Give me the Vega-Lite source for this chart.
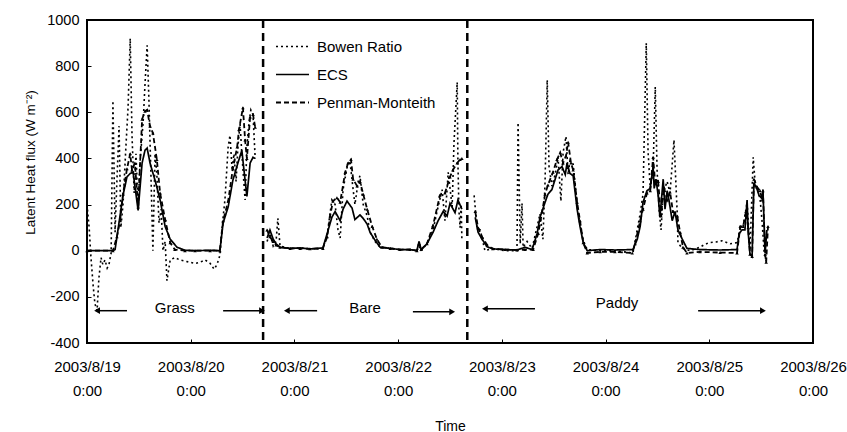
{
  "$schema": "https://vega.github.io/schema/vega-lite/v6.json",
  "width": 726,
  "height": 323,
  "autosize": {"type": "none"},
  "padding": {"left": 87, "top": 20, "right": 34, "bottom": 89},
  "background": "white",
  "config": {
    "view": {"stroke": "black", "strokeWidth": 2},
    "font": "Liberation Sans",
    "axis": {"grid": false, "domain": false, "tickColor": "black", "labelColor": "black", "titleColor": "black", "titleFontWeight": "normal", "labelFont": "Liberation Sans", "titleFont": "Liberation Sans"}
  },
  "datasets": {
    "flux": [
      {"series": "ECS", "segment": "grass", "time": "2003-08-19T00:00", "value": 0},
      {"series": "ECS", "segment": "grass", "time": "2003-08-19T06:00", "value": 0},
      {"series": "ECS", "segment": "grass", "time": "2003-08-19T06:30", "value": 5},
      {"series": "ECS", "segment": "grass", "time": "2003-08-19T07:10", "value": 90},
      {"series": "ECS", "segment": "grass", "time": "2003-08-19T08:20", "value": 240},
      {"series": "ECS", "segment": "grass", "time": "2003-08-19T09:15", "value": 320},
      {"series": "ECS", "segment": "grass", "time": "2003-08-19T10:00", "value": 335},
      {"series": "ECS", "segment": "grass", "time": "2003-08-19T10:40", "value": 340},
      {"series": "ECS", "segment": "grass", "time": "2003-08-19T11:05", "value": 280},
      {"series": "ECS", "segment": "grass", "time": "2003-08-19T11:50", "value": 175},
      {"series": "ECS", "segment": "grass", "time": "2003-08-19T12:45", "value": 380},
      {"series": "ECS", "segment": "grass", "time": "2003-08-19T13:25", "value": 435},
      {"series": "ECS", "segment": "grass", "time": "2003-08-19T13:55", "value": 445},
      {"series": "ECS", "segment": "grass", "time": "2003-08-19T14:35", "value": 380},
      {"series": "ECS", "segment": "grass", "time": "2003-08-19T15:45", "value": 305},
      {"series": "ECS", "segment": "grass", "time": "2003-08-19T16:55", "value": 220},
      {"series": "ECS", "segment": "grass", "time": "2003-08-19T18:05", "value": 105},
      {"series": "ECS", "segment": "grass", "time": "2003-08-19T19:15", "value": 50},
      {"series": "ECS", "segment": "grass", "time": "2003-08-19T20:50", "value": 15},
      {"series": "ECS", "segment": "grass", "time": "2003-08-19T22:40", "value": 2},
      {"series": "ECS", "segment": "grass", "time": "2003-08-20T01:00", "value": 0},
      {"series": "ECS", "segment": "grass", "time": "2003-08-20T04:30", "value": 2},
      {"series": "ECS", "segment": "grass", "time": "2003-08-20T06:45", "value": 0},
      {"series": "ECS", "segment": "grass", "time": "2003-08-20T07:30", "value": 120},
      {"series": "ECS", "segment": "grass", "time": "2003-08-20T08:40", "value": 190},
      {"series": "ECS", "segment": "grass", "time": "2003-08-20T09:45", "value": 305},
      {"series": "ECS", "segment": "grass", "time": "2003-08-20T10:55", "value": 380},
      {"series": "ECS", "segment": "grass", "time": "2003-08-20T11:50", "value": 435},
      {"series": "ECS", "segment": "grass", "time": "2003-08-20T12:35", "value": 305},
      {"series": "ECS", "segment": "grass", "time": "2003-08-20T13:00", "value": 235},
      {"series": "ECS", "segment": "grass", "time": "2003-08-20T13:45", "value": 380},
      {"series": "ECS", "segment": "grass", "time": "2003-08-20T14:25", "value": 405},
      {"series": "ECS", "segment": "grass", "time": "2003-08-20T14:55", "value": 400},

      {"series": "Penman-Monteith", "segment": "grass", "time": "2003-08-19T00:00", "value": 0},
      {"series": "Penman-Monteith", "segment": "grass", "time": "2003-08-19T06:00", "value": 0},
      {"series": "Penman-Monteith", "segment": "grass", "time": "2003-08-19T06:55", "value": 60},
      {"series": "Penman-Monteith", "segment": "grass", "time": "2003-08-19T07:40", "value": 130},
      {"series": "Penman-Monteith", "segment": "grass", "time": "2003-08-19T08:20", "value": 245},
      {"series": "Penman-Monteith", "segment": "grass", "time": "2003-08-19T09:15", "value": 355},
      {"series": "Penman-Monteith", "segment": "grass", "time": "2003-08-19T10:00", "value": 420},
      {"series": "Penman-Monteith", "segment": "grass", "time": "2003-08-19T10:25", "value": 350},
      {"series": "Penman-Monteith", "segment": "grass", "time": "2003-08-19T11:05", "value": 380},
      {"series": "Penman-Monteith", "segment": "grass", "time": "2003-08-19T11:50", "value": 190},
      {"series": "Penman-Monteith", "segment": "grass", "time": "2003-08-19T12:45", "value": 570},
      {"series": "Penman-Monteith", "segment": "grass", "time": "2003-08-19T13:25", "value": 605},
      {"series": "Penman-Monteith", "segment": "grass", "time": "2003-08-19T13:55", "value": 610},
      {"series": "Penman-Monteith", "segment": "grass", "time": "2003-08-19T14:35", "value": 540},
      {"series": "Penman-Monteith", "segment": "grass", "time": "2003-08-19T15:15", "value": 510},
      {"series": "Penman-Monteith", "segment": "grass", "time": "2003-08-19T16:10", "value": 395},
      {"series": "Penman-Monteith", "segment": "grass", "time": "2003-08-19T16:55", "value": 250},
      {"series": "Penman-Monteith", "segment": "grass", "time": "2003-08-19T18:05", "value": 135},
      {"series": "Penman-Monteith", "segment": "grass", "time": "2003-08-19T19:15", "value": 35},
      {"series": "Penman-Monteith", "segment": "grass", "time": "2003-08-19T20:20", "value": 5},
      {"series": "Penman-Monteith", "segment": "grass", "time": "2003-08-19T22:40", "value": 0},
      {"series": "Penman-Monteith", "segment": "grass", "time": "2003-08-20T01:00", "value": 0},
      {"series": "Penman-Monteith", "segment": "grass", "time": "2003-08-20T04:30", "value": 0},
      {"series": "Penman-Monteith", "segment": "grass", "time": "2003-08-20T06:45", "value": 0},
      {"series": "Penman-Monteith", "segment": "grass", "time": "2003-08-20T07:30", "value": 130},
      {"series": "Penman-Monteith", "segment": "grass", "time": "2003-08-20T08:40", "value": 215},
      {"series": "Penman-Monteith", "segment": "grass", "time": "2003-08-20T09:45", "value": 355},
      {"series": "Penman-Monteith", "segment": "grass", "time": "2003-08-20T10:45", "value": 450},
      {"series": "Penman-Monteith", "segment": "grass", "time": "2003-08-20T11:10", "value": 525},
      {"series": "Penman-Monteith", "segment": "grass", "time": "2003-08-20T12:05", "value": 620},
      {"series": "Penman-Monteith", "segment": "grass", "time": "2003-08-20T12:35", "value": 480},
      {"series": "Penman-Monteith", "segment": "grass", "time": "2003-08-20T13:00", "value": 400},
      {"series": "Penman-Monteith", "segment": "grass", "time": "2003-08-20T13:45", "value": 580},
      {"series": "Penman-Monteith", "segment": "grass", "time": "2003-08-20T14:25", "value": 590},
      {"series": "Penman-Monteith", "segment": "grass", "time": "2003-08-20T14:55", "value": 535},

      {"series": "Bowen Ratio", "segment": "grass", "time": "2003-08-19T00:00", "value": 200},
      {"series": "Bowen Ratio", "segment": "grass", "time": "2003-08-19T00:30", "value": 100},
      {"series": "Bowen Ratio", "segment": "grass", "time": "2003-08-19T00:55", "value": -30},
      {"series": "Bowen Ratio", "segment": "grass", "time": "2003-08-19T01:25", "value": -150},
      {"series": "Bowen Ratio", "segment": "grass", "time": "2003-08-19T01:50", "value": -230},
      {"series": "Bowen Ratio", "segment": "grass", "time": "2003-08-19T02:20", "value": -260},
      {"series": "Bowen Ratio", "segment": "grass", "time": "2003-08-19T02:45", "value": -120},
      {"series": "Bowen Ratio", "segment": "grass", "time": "2003-08-19T03:15", "value": -30},
      {"series": "Bowen Ratio", "segment": "grass", "time": "2003-08-19T03:40", "value": -60},
      {"series": "Bowen Ratio", "segment": "grass", "time": "2003-08-19T04:10", "value": -40},
      {"series": "Bowen Ratio", "segment": "grass", "time": "2003-08-19T04:40", "value": -75},
      {"series": "Bowen Ratio", "segment": "grass", "time": "2003-08-19T05:05", "value": -60},
      {"series": "Bowen Ratio", "segment": "grass", "time": "2003-08-19T05:35", "value": -10},
      {"series": "Bowen Ratio", "segment": "grass", "time": "2003-08-19T06:00", "value": 650},
      {"series": "Bowen Ratio", "segment": "grass", "time": "2003-08-19T06:30", "value": 80},
      {"series": "Bowen Ratio", "segment": "grass", "time": "2003-08-19T06:55", "value": 300},
      {"series": "Bowen Ratio", "segment": "grass", "time": "2003-08-19T07:25", "value": 540},
      {"series": "Bowen Ratio", "segment": "grass", "time": "2003-08-19T07:50", "value": 100},
      {"series": "Bowen Ratio", "segment": "grass", "time": "2003-08-19T08:20", "value": 200},
      {"series": "Bowen Ratio", "segment": "grass", "time": "2003-08-19T09:00", "value": 450},
      {"series": "Bowen Ratio", "segment": "grass", "time": "2003-08-19T09:30", "value": 620},
      {"series": "Bowen Ratio", "segment": "grass", "time": "2003-08-19T10:00", "value": 920},
      {"series": "Bowen Ratio", "segment": "grass", "time": "2003-08-19T10:25", "value": 500},
      {"series": "Bowen Ratio", "segment": "grass", "time": "2003-08-19T10:55", "value": 250},
      {"series": "Bowen Ratio", "segment": "grass", "time": "2003-08-19T11:20", "value": 420},
      {"series": "Bowen Ratio", "segment": "grass", "time": "2003-08-19T11:50", "value": 180},
      {"series": "Bowen Ratio", "segment": "grass", "time": "2003-08-19T12:15", "value": 380},
      {"series": "Bowen Ratio", "segment": "grass", "time": "2003-08-19T13:00", "value": 560},
      {"series": "Bowen Ratio", "segment": "grass", "time": "2003-08-19T13:25", "value": 720},
      {"series": "Bowen Ratio", "segment": "grass", "time": "2003-08-19T13:55", "value": 890},
      {"series": "Bowen Ratio", "segment": "grass", "time": "2003-08-19T14:20", "value": 650},
      {"series": "Bowen Ratio", "segment": "grass", "time": "2003-08-19T14:50", "value": 300},
      {"series": "Bowen Ratio", "segment": "grass", "time": "2003-08-19T15:15", "value": 0},
      {"series": "Bowen Ratio", "segment": "grass", "time": "2003-08-19T15:45", "value": 420},
      {"series": "Bowen Ratio", "segment": "grass", "time": "2003-08-19T16:10", "value": 330},
      {"series": "Bowen Ratio", "segment": "grass", "time": "2003-08-19T16:40", "value": 120},
      {"series": "Bowen Ratio", "segment": "grass", "time": "2003-08-19T17:10", "value": 180},
      {"series": "Bowen Ratio", "segment": "grass", "time": "2003-08-19T17:35", "value": 0},
      {"series": "Bowen Ratio", "segment": "grass", "time": "2003-08-19T18:05", "value": 40},
      {"series": "Bowen Ratio", "segment": "grass", "time": "2003-08-19T18:30", "value": -130},
      {"series": "Bowen Ratio", "segment": "grass", "time": "2003-08-19T19:15", "value": -40},
      {"series": "Bowen Ratio", "segment": "grass", "time": "2003-08-19T20:20", "value": -30},
      {"series": "Bowen Ratio", "segment": "grass", "time": "2003-08-19T21:30", "value": -40},
      {"series": "Bowen Ratio", "segment": "grass", "time": "2003-08-19T22:40", "value": -45},
      {"series": "Bowen Ratio", "segment": "grass", "time": "2003-08-19T23:50", "value": -50},
      {"series": "Bowen Ratio", "segment": "grass", "time": "2003-08-20T01:00", "value": -55},
      {"series": "Bowen Ratio", "segment": "grass", "time": "2003-08-20T02:10", "value": -50},
      {"series": "Bowen Ratio", "segment": "grass", "time": "2003-08-20T03:20", "value": -40},
      {"series": "Bowen Ratio", "segment": "grass", "time": "2003-08-20T04:30", "value": -55},
      {"series": "Bowen Ratio", "segment": "grass", "time": "2003-08-20T05:25", "value": -80},
      {"series": "Bowen Ratio", "segment": "grass", "time": "2003-08-20T06:05", "value": -60},
      {"series": "Bowen Ratio", "segment": "grass", "time": "2003-08-20T06:45", "value": -20},
      {"series": "Bowen Ratio", "segment": "grass", "time": "2003-08-20T07:15", "value": 100},
      {"series": "Bowen Ratio", "segment": "grass", "time": "2003-08-20T07:55", "value": 220},
      {"series": "Bowen Ratio", "segment": "grass", "time": "2003-08-20T08:40", "value": 450},
      {"series": "Bowen Ratio", "segment": "grass", "time": "2003-08-20T09:05", "value": 500},
      {"series": "Bowen Ratio", "segment": "grass", "time": "2003-08-20T09:35", "value": 350},
      {"series": "Bowen Ratio", "segment": "grass", "time": "2003-08-20T10:00", "value": 420},
      {"series": "Bowen Ratio", "segment": "grass", "time": "2003-08-20T10:30", "value": 300},
      {"series": "Bowen Ratio", "segment": "grass", "time": "2003-08-20T10:55", "value": 450},
      {"series": "Bowen Ratio", "segment": "grass", "time": "2003-08-20T11:25", "value": 550},
      {"series": "Bowen Ratio", "segment": "grass", "time": "2003-08-20T11:50", "value": 420},
      {"series": "Bowen Ratio", "segment": "grass", "time": "2003-08-20T12:35", "value": 220},
      {"series": "Bowen Ratio", "segment": "grass", "time": "2003-08-20T13:00", "value": 450},
      {"series": "Bowen Ratio", "segment": "grass", "time": "2003-08-20T13:30", "value": 560},
      {"series": "Bowen Ratio", "segment": "grass", "time": "2003-08-20T13:55", "value": 610},
      {"series": "Bowen Ratio", "segment": "grass", "time": "2003-08-20T14:25", "value": 590},
      {"series": "Bowen Ratio", "segment": "grass", "time": "2003-08-20T14:55", "value": 400},

      {"series": "ECS", "segment": "bare", "time": "2003-08-20T17:40", "value": 55},
      {"series": "ECS", "segment": "bare", "time": "2003-08-20T18:20", "value": 90},
      {"series": "ECS", "segment": "bare", "time": "2003-08-20T19:05", "value": 50},
      {"series": "ECS", "segment": "bare", "time": "2003-08-20T19:45", "value": 30},
      {"series": "ECS", "segment": "bare", "time": "2003-08-20T20:40", "value": 15},
      {"series": "ECS", "segment": "bare", "time": "2003-08-20T23:00", "value": 10},
      {"series": "ECS", "segment": "bare", "time": "2003-08-21T01:20", "value": 12},
      {"series": "ECS", "segment": "bare", "time": "2003-08-21T03:35", "value": 8},
      {"series": "ECS", "segment": "bare", "time": "2003-08-21T06:35", "value": 12},
      {"series": "ECS", "segment": "bare", "time": "2003-08-21T07:35", "value": 75},
      {"series": "ECS", "segment": "bare", "time": "2003-08-21T08:40", "value": 145},
      {"series": "ECS", "segment": "bare", "time": "2003-08-21T09:25", "value": 170},
      {"series": "ECS", "segment": "bare", "time": "2003-08-21T10:35", "value": 130},
      {"series": "ECS", "segment": "bare", "time": "2003-08-21T11:15", "value": 180},
      {"series": "ECS", "segment": "bare", "time": "2003-08-21T12:10", "value": 215},
      {"series": "ECS", "segment": "bare", "time": "2003-08-21T13:20", "value": 185},
      {"series": "ECS", "segment": "bare", "time": "2003-08-21T14:00", "value": 135},
      {"series": "ECS", "segment": "bare", "time": "2003-08-21T15:10", "value": 155},
      {"series": "ECS", "segment": "bare", "time": "2003-08-21T15:55", "value": 140},
      {"series": "ECS", "segment": "bare", "time": "2003-08-21T16:50", "value": 115},
      {"series": "ECS", "segment": "bare", "time": "2003-08-21T17:30", "value": 80},
      {"series": "ECS", "segment": "bare", "time": "2003-08-21T18:40", "value": 45},
      {"series": "ECS", "segment": "bare", "time": "2003-08-21T19:50", "value": 15},
      {"series": "ECS", "segment": "bare", "time": "2003-08-21T22:10", "value": 10},
      {"series": "ECS", "segment": "bare", "time": "2003-08-22T00:25", "value": 5},
      {"series": "ECS", "segment": "bare", "time": "2003-08-22T02:45", "value": 5},
      {"series": "ECS", "segment": "bare", "time": "2003-08-22T04:20", "value": 0},
      {"series": "ECS", "segment": "bare", "time": "2003-08-22T04:50", "value": 40},
      {"series": "ECS", "segment": "bare", "time": "2003-08-22T05:20", "value": 5},
      {"series": "ECS", "segment": "bare", "time": "2003-08-22T06:40", "value": 30},
      {"series": "ECS", "segment": "bare", "time": "2003-08-22T08:05", "value": 80},
      {"series": "ECS", "segment": "bare", "time": "2003-08-22T09:15", "value": 130},
      {"series": "ECS", "segment": "bare", "time": "2003-08-22T10:25", "value": 170},
      {"series": "ECS", "segment": "bare", "time": "2003-08-22T11:20", "value": 150},
      {"series": "ECS", "segment": "bare", "time": "2003-08-22T12:00", "value": 205},
      {"series": "ECS", "segment": "bare", "time": "2003-08-22T13:10", "value": 165},
      {"series": "ECS", "segment": "bare", "time": "2003-08-22T13:50", "value": 220},
      {"series": "ECS", "segment": "bare", "time": "2003-08-22T14:45", "value": 180},

      {"series": "Penman-Monteith", "segment": "bare", "time": "2003-08-20T17:40", "value": 90},
      {"series": "Penman-Monteith", "segment": "bare", "time": "2003-08-20T18:20", "value": 60},
      {"series": "Penman-Monteith", "segment": "bare", "time": "2003-08-20T19:05", "value": 40},
      {"series": "Penman-Monteith", "segment": "bare", "time": "2003-08-20T19:45", "value": 25},
      {"series": "Penman-Monteith", "segment": "bare", "time": "2003-08-20T20:40", "value": 15},
      {"series": "Penman-Monteith", "segment": "bare", "time": "2003-08-20T23:00", "value": 10},
      {"series": "Penman-Monteith", "segment": "bare", "time": "2003-08-21T01:20", "value": 10},
      {"series": "Penman-Monteith", "segment": "bare", "time": "2003-08-21T03:35", "value": 8},
      {"series": "Penman-Monteith", "segment": "bare", "time": "2003-08-21T06:35", "value": 10},
      {"series": "Penman-Monteith", "segment": "bare", "time": "2003-08-21T07:35", "value": 60},
      {"series": "Penman-Monteith", "segment": "bare", "time": "2003-08-21T08:15", "value": 150},
      {"series": "Penman-Monteith", "segment": "bare", "time": "2003-08-21T08:55", "value": 215},
      {"series": "Penman-Monteith", "segment": "bare", "time": "2003-08-21T09:50", "value": 230},
      {"series": "Penman-Monteith", "segment": "bare", "time": "2003-08-21T10:35", "value": 210},
      {"series": "Penman-Monteith", "segment": "bare", "time": "2003-08-21T11:45", "value": 340},
      {"series": "Penman-Monteith", "segment": "bare", "time": "2003-08-21T12:25", "value": 380},
      {"series": "Penman-Monteith", "segment": "bare", "time": "2003-08-21T13:05", "value": 395},
      {"series": "Penman-Monteith", "segment": "bare", "time": "2003-08-21T13:35", "value": 310},
      {"series": "Penman-Monteith", "segment": "bare", "time": "2003-08-21T14:30", "value": 280},
      {"series": "Penman-Monteith", "segment": "bare", "time": "2003-08-21T15:10", "value": 300},
      {"series": "Penman-Monteith", "segment": "bare", "time": "2003-08-21T15:55", "value": 245},
      {"series": "Penman-Monteith", "segment": "bare", "time": "2003-08-21T16:50", "value": 180},
      {"series": "Penman-Monteith", "segment": "bare", "time": "2003-08-21T18:00", "value": 105},
      {"series": "Penman-Monteith", "segment": "bare", "time": "2003-08-21T19:05", "value": 50},
      {"series": "Penman-Monteith", "segment": "bare", "time": "2003-08-21T20:15", "value": 15},
      {"series": "Penman-Monteith", "segment": "bare", "time": "2003-08-21T22:10", "value": 10},
      {"series": "Penman-Monteith", "segment": "bare", "time": "2003-08-22T00:25", "value": 5},
      {"series": "Penman-Monteith", "segment": "bare", "time": "2003-08-22T02:45", "value": 5},
      {"series": "Penman-Monteith", "segment": "bare", "time": "2003-08-22T04:20", "value": 0},
      {"series": "Penman-Monteith", "segment": "bare", "time": "2003-08-22T04:50", "value": 30},
      {"series": "Penman-Monteith", "segment": "bare", "time": "2003-08-22T05:20", "value": 5},
      {"series": "Penman-Monteith", "segment": "bare", "time": "2003-08-22T06:40", "value": 30},
      {"series": "Penman-Monteith", "segment": "bare", "time": "2003-08-22T08:05", "value": 110},
      {"series": "Penman-Monteith", "segment": "bare", "time": "2003-08-22T09:40", "value": 240},
      {"series": "Penman-Monteith", "segment": "bare", "time": "2003-08-22T10:50", "value": 250},
      {"series": "Penman-Monteith", "segment": "bare", "time": "2003-08-22T12:00", "value": 320},
      {"series": "Penman-Monteith", "segment": "bare", "time": "2003-08-22T12:40", "value": 350},
      {"series": "Penman-Monteith", "segment": "bare", "time": "2003-08-22T13:40", "value": 380},
      {"series": "Penman-Monteith", "segment": "bare", "time": "2003-08-22T14:20", "value": 395},
      {"series": "Penman-Monteith", "segment": "bare", "time": "2003-08-22T14:45", "value": 400},

      {"series": "Bowen Ratio", "segment": "bare", "time": "2003-08-20T17:40", "value": 40},
      {"series": "Bowen Ratio", "segment": "bare", "time": "2003-08-20T18:20", "value": 75},
      {"series": "Bowen Ratio", "segment": "bare", "time": "2003-08-20T19:05", "value": 20},
      {"series": "Bowen Ratio", "segment": "bare", "time": "2003-08-20T19:45", "value": 40},
      {"series": "Bowen Ratio", "segment": "bare", "time": "2003-08-20T20:10", "value": 140},
      {"series": "Bowen Ratio", "segment": "bare", "time": "2003-08-20T20:40", "value": 20},
      {"series": "Bowen Ratio", "segment": "bare", "time": "2003-08-20T23:00", "value": 10},
      {"series": "Bowen Ratio", "segment": "bare", "time": "2003-08-21T01:20", "value": 12},
      {"series": "Bowen Ratio", "segment": "bare", "time": "2003-08-21T03:35", "value": 8},
      {"series": "Bowen Ratio", "segment": "bare", "time": "2003-08-21T06:35", "value": 10},
      {"series": "Bowen Ratio", "segment": "bare", "time": "2003-08-21T07:35", "value": 70},
      {"series": "Bowen Ratio", "segment": "bare", "time": "2003-08-21T08:40", "value": 220},
      {"series": "Bowen Ratio", "segment": "bare", "time": "2003-08-21T09:25", "value": 200},
      {"series": "Bowen Ratio", "segment": "bare", "time": "2003-08-21T10:05", "value": 90},
      {"series": "Bowen Ratio", "segment": "bare", "time": "2003-08-21T10:35", "value": 55},
      {"series": "Bowen Ratio", "segment": "bare", "time": "2003-08-21T11:15", "value": 265},
      {"series": "Bowen Ratio", "segment": "bare", "time": "2003-08-21T12:10", "value": 360},
      {"series": "Bowen Ratio", "segment": "bare", "time": "2003-08-21T12:50", "value": 390},
      {"series": "Bowen Ratio", "segment": "bare", "time": "2003-08-21T13:35", "value": 265},
      {"series": "Bowen Ratio", "segment": "bare", "time": "2003-08-21T14:00", "value": 200},
      {"series": "Bowen Ratio", "segment": "bare", "time": "2003-08-21T14:45", "value": 300},
      {"series": "Bowen Ratio", "segment": "bare", "time": "2003-08-21T15:10", "value": 325},
      {"series": "Bowen Ratio", "segment": "bare", "time": "2003-08-21T15:55", "value": 200},
      {"series": "Bowen Ratio", "segment": "bare", "time": "2003-08-21T16:50", "value": 150},
      {"series": "Bowen Ratio", "segment": "bare", "time": "2003-08-21T17:30", "value": 80},
      {"series": "Bowen Ratio", "segment": "bare", "time": "2003-08-21T18:40", "value": 40},
      {"series": "Bowen Ratio", "segment": "bare", "time": "2003-08-21T19:50", "value": 15},
      {"series": "Bowen Ratio", "segment": "bare", "time": "2003-08-21T22:10", "value": 10},
      {"series": "Bowen Ratio", "segment": "bare", "time": "2003-08-22T00:25", "value": 5},
      {"series": "Bowen Ratio", "segment": "bare", "time": "2003-08-22T02:45", "value": 5},
      {"series": "Bowen Ratio", "segment": "bare", "time": "2003-08-22T04:20", "value": 0},
      {"series": "Bowen Ratio", "segment": "bare", "time": "2003-08-22T04:50", "value": 20},
      {"series": "Bowen Ratio", "segment": "bare", "time": "2003-08-22T05:20", "value": 0},
      {"series": "Bowen Ratio", "segment": "bare", "time": "2003-08-22T06:40", "value": 30},
      {"series": "Bowen Ratio", "segment": "bare", "time": "2003-08-22T08:05", "value": 90},
      {"series": "Bowen Ratio", "segment": "bare", "time": "2003-08-22T09:00", "value": 170},
      {"series": "Bowen Ratio", "segment": "bare", "time": "2003-08-22T10:10", "value": 265},
      {"series": "Bowen Ratio", "segment": "bare", "time": "2003-08-22T10:50", "value": 130},
      {"series": "Bowen Ratio", "segment": "bare", "time": "2003-08-22T11:35", "value": 340},
      {"series": "Bowen Ratio", "segment": "bare", "time": "2003-08-22T12:30", "value": 190},
      {"series": "Bowen Ratio", "segment": "bare", "time": "2003-08-22T12:55", "value": 465},
      {"series": "Bowen Ratio", "segment": "bare", "time": "2003-08-22T13:40", "value": 730},
      {"series": "Bowen Ratio", "segment": "bare", "time": "2003-08-22T13:50", "value": 380},
      {"series": "Bowen Ratio", "segment": "bare", "time": "2003-08-22T14:05", "value": 170},
      {"series": "Bowen Ratio", "segment": "bare", "time": "2003-08-22T14:20", "value": 100},
      {"series": "Bowen Ratio", "segment": "bare", "time": "2003-08-22T14:35", "value": 200},
      {"series": "Bowen Ratio", "segment": "bare", "time": "2003-08-22T14:45", "value": 50},

      {"series": "ECS", "segment": "paddy", "time": "2003-08-22T17:50", "value": 145},
      {"series": "ECS", "segment": "paddy", "time": "2003-08-22T18:30", "value": 80},
      {"series": "ECS", "segment": "paddy", "time": "2003-08-22T19:25", "value": 50},
      {"series": "ECS", "segment": "paddy", "time": "2003-08-22T20:35", "value": 17},
      {"series": "ECS", "segment": "paddy", "time": "2003-08-22T21:55", "value": 8},
      {"series": "ECS", "segment": "paddy", "time": "2003-08-23T00:45", "value": 5},
      {"series": "ECS", "segment": "paddy", "time": "2003-08-23T03:30", "value": 3},
      {"series": "ECS", "segment": "paddy", "time": "2003-08-23T05:20", "value": 15},
      {"series": "ECS", "segment": "paddy", "time": "2003-08-23T07:00", "value": 5},
      {"series": "ECS", "segment": "paddy", "time": "2003-08-23T08:10", "value": 75},
      {"series": "ECS", "segment": "paddy", "time": "2003-08-23T08:50", "value": 145},
      {"series": "ECS", "segment": "paddy", "time": "2003-08-23T10:00", "value": 210},
      {"series": "ECS", "segment": "paddy", "time": "2003-08-23T10:40", "value": 245},
      {"series": "ECS", "segment": "paddy", "time": "2003-08-23T11:35", "value": 265},
      {"series": "ECS", "segment": "paddy", "time": "2003-08-23T12:20", "value": 310},
      {"series": "ECS", "segment": "paddy", "time": "2003-08-23T13:00", "value": 350},
      {"series": "ECS", "segment": "paddy", "time": "2003-08-23T13:55", "value": 365},
      {"series": "ECS", "segment": "paddy", "time": "2003-08-23T14:40", "value": 330},
      {"series": "ECS", "segment": "paddy", "time": "2003-08-23T15:05", "value": 380},
      {"series": "ECS", "segment": "paddy", "time": "2003-08-23T15:45", "value": 335},
      {"series": "ECS", "segment": "paddy", "time": "2003-08-23T16:30", "value": 325},
      {"series": "ECS", "segment": "paddy", "time": "2003-08-23T17:25", "value": 180},
      {"series": "ECS", "segment": "paddy", "time": "2003-08-23T18:05", "value": 105},
      {"series": "ECS", "segment": "paddy", "time": "2003-08-23T18:50", "value": 35},
      {"series": "ECS", "segment": "paddy", "time": "2003-08-23T19:45", "value": 0},
      {"series": "ECS", "segment": "paddy", "time": "2003-08-23T22:45", "value": 5},
      {"series": "ECS", "segment": "paddy", "time": "2003-08-24T02:10", "value": 3},
      {"series": "ECS", "segment": "paddy", "time": "2003-08-24T06:20", "value": 5},
      {"series": "ECS", "segment": "paddy", "time": "2003-08-24T07:20", "value": 50},
      {"series": "ECS", "segment": "paddy", "time": "2003-08-24T08:00", "value": 105},
      {"series": "ECS", "segment": "paddy", "time": "2003-08-24T08:40", "value": 210},
      {"series": "ECS", "segment": "paddy", "time": "2003-08-24T09:35", "value": 260},
      {"series": "ECS", "segment": "paddy", "time": "2003-08-24T10:20", "value": 270},
      {"series": "ECS", "segment": "paddy", "time": "2003-08-24T11:00", "value": 365},
      {"series": "ECS", "segment": "paddy", "time": "2003-08-24T11:15", "value": 270},
      {"series": "ECS", "segment": "paddy", "time": "2003-08-24T11:40", "value": 310},
      {"series": "ECS", "segment": "paddy", "time": "2003-08-24T12:10", "value": 240},
      {"series": "ECS", "segment": "paddy", "time": "2003-08-24T12:35", "value": 145},
      {"series": "ECS", "segment": "paddy", "time": "2003-08-24T13:20", "value": 310},
      {"series": "ECS", "segment": "paddy", "time": "2003-08-24T13:45", "value": 180},
      {"series": "ECS", "segment": "paddy", "time": "2003-08-24T14:15", "value": 260},
      {"series": "ECS", "segment": "paddy", "time": "2003-08-24T14:40", "value": 220},
      {"series": "ECS", "segment": "paddy", "time": "2003-08-24T15:25", "value": 130},
      {"series": "ECS", "segment": "paddy", "time": "2003-08-24T16:05", "value": 170},
      {"series": "ECS", "segment": "paddy", "time": "2003-08-24T16:45", "value": 90},
      {"series": "ECS", "segment": "paddy", "time": "2003-08-24T17:45", "value": 50},
      {"series": "ECS", "segment": "paddy", "time": "2003-08-24T18:50", "value": 10},
      {"series": "ECS", "segment": "paddy", "time": "2003-08-24T21:50", "value": 5},
      {"series": "ECS", "segment": "paddy", "time": "2003-08-25T02:30", "value": 3},
      {"series": "ECS", "segment": "paddy", "time": "2003-08-25T06:25", "value": 5},
      {"series": "ECS", "segment": "paddy", "time": "2003-08-25T06:55", "value": 75},
      {"series": "ECS", "segment": "paddy", "time": "2003-08-25T07:35", "value": 90},
      {"series": "ECS", "segment": "paddy", "time": "2003-08-25T08:15", "value": 90},
      {"series": "ECS", "segment": "paddy", "time": "2003-08-25T08:45", "value": 220},
      {"series": "ECS", "segment": "paddy", "time": "2003-08-25T09:00", "value": 80},
      {"series": "ECS", "segment": "paddy", "time": "2003-08-25T09:25", "value": -15},
      {"series": "ECS", "segment": "paddy", "time": "2003-08-25T09:55", "value": -20},
      {"series": "ECS", "segment": "paddy", "time": "2003-08-25T10:20", "value": 295},
      {"series": "ECS", "segment": "paddy", "time": "2003-08-25T11:05", "value": 265},
      {"series": "ECS", "segment": "paddy", "time": "2003-08-25T11:30", "value": 240},
      {"series": "ECS", "segment": "paddy", "time": "2003-08-25T12:15", "value": 225},
      {"series": "ECS", "segment": "paddy", "time": "2003-08-25T12:25", "value": 265},
      {"series": "ECS", "segment": "paddy", "time": "2003-08-25T12:55", "value": -10},
      {"series": "ECS", "segment": "paddy", "time": "2003-08-25T13:20", "value": 90},

      {"series": "Penman-Monteith", "segment": "paddy", "time": "2003-08-22T17:50", "value": 170},
      {"series": "Penman-Monteith", "segment": "paddy", "time": "2003-08-22T18:30", "value": 100},
      {"series": "Penman-Monteith", "segment": "paddy", "time": "2003-08-22T19:25", "value": 60},
      {"series": "Penman-Monteith", "segment": "paddy", "time": "2003-08-22T20:35", "value": 25},
      {"series": "Penman-Monteith", "segment": "paddy", "time": "2003-08-22T21:55", "value": 8},
      {"series": "Penman-Monteith", "segment": "paddy", "time": "2003-08-23T00:45", "value": 5},
      {"series": "Penman-Monteith", "segment": "paddy", "time": "2003-08-23T03:30", "value": 3},
      {"series": "Penman-Monteith", "segment": "paddy", "time": "2003-08-23T05:20", "value": 5},
      {"series": "Penman-Monteith", "segment": "paddy", "time": "2003-08-23T07:15", "value": 5},
      {"series": "Penman-Monteith", "segment": "paddy", "time": "2003-08-23T08:25", "value": 75},
      {"series": "Penman-Monteith", "segment": "paddy", "time": "2003-08-23T09:20", "value": 170},
      {"series": "Penman-Monteith", "segment": "paddy", "time": "2003-08-23T10:00", "value": 245},
      {"series": "Penman-Monteith", "segment": "paddy", "time": "2003-08-23T10:40", "value": 285},
      {"series": "Penman-Monteith", "segment": "paddy", "time": "2003-08-23T11:50", "value": 340},
      {"series": "Penman-Monteith", "segment": "paddy", "time": "2003-08-23T12:45", "value": 395},
      {"series": "Penman-Monteith", "segment": "paddy", "time": "2003-08-23T13:30", "value": 425},
      {"series": "Penman-Monteith", "segment": "paddy", "time": "2003-08-23T14:10", "value": 380},
      {"series": "Penman-Monteith", "segment": "paddy", "time": "2003-08-23T14:50", "value": 410},
      {"series": "Penman-Monteith", "segment": "paddy", "time": "2003-08-23T15:20", "value": 470},
      {"series": "Penman-Monteith", "segment": "paddy", "time": "2003-08-23T16:00", "value": 380},
      {"series": "Penman-Monteith", "segment": "paddy", "time": "2003-08-23T16:30", "value": 350},
      {"series": "Penman-Monteith", "segment": "paddy", "time": "2003-08-23T17:25", "value": 210},
      {"series": "Penman-Monteith", "segment": "paddy", "time": "2003-08-23T18:05", "value": 130},
      {"series": "Penman-Monteith", "segment": "paddy", "time": "2003-08-23T18:50", "value": 35},
      {"series": "Penman-Monteith", "segment": "paddy", "time": "2003-08-23T19:45", "value": -10},
      {"series": "Penman-Monteith", "segment": "paddy", "time": "2003-08-23T22:45", "value": -5},
      {"series": "Penman-Monteith", "segment": "paddy", "time": "2003-08-24T02:10", "value": -5},
      {"series": "Penman-Monteith", "segment": "paddy", "time": "2003-08-24T06:10", "value": -10},
      {"series": "Penman-Monteith", "segment": "paddy", "time": "2003-08-24T06:50", "value": 30},
      {"series": "Penman-Monteith", "segment": "paddy", "time": "2003-08-24T08:00", "value": 130},
      {"series": "Penman-Monteith", "segment": "paddy", "time": "2003-08-24T08:40", "value": 180},
      {"series": "Penman-Monteith", "segment": "paddy", "time": "2003-08-24T09:35", "value": 250},
      {"series": "Penman-Monteith", "segment": "paddy", "time": "2003-08-24T10:20", "value": 260},
      {"series": "Penman-Monteith", "segment": "paddy", "time": "2003-08-24T11:00", "value": 405},
      {"series": "Penman-Monteith", "segment": "paddy", "time": "2003-08-24T11:30", "value": 290},
      {"series": "Penman-Monteith", "segment": "paddy", "time": "2003-08-24T12:10", "value": 300},
      {"series": "Penman-Monteith", "segment": "paddy", "time": "2003-08-24T12:50", "value": 150},
      {"series": "Penman-Monteith", "segment": "paddy", "time": "2003-08-24T13:30", "value": 275},
      {"series": "Penman-Monteith", "segment": "paddy", "time": "2003-08-24T14:15", "value": 220},
      {"series": "Penman-Monteith", "segment": "paddy", "time": "2003-08-24T14:55", "value": 255},
      {"series": "Penman-Monteith", "segment": "paddy", "time": "2003-08-24T15:35", "value": 170},
      {"series": "Penman-Monteith", "segment": "paddy", "time": "2003-08-24T16:35", "value": 150},
      {"series": "Penman-Monteith", "segment": "paddy", "time": "2003-08-24T17:15", "value": 80},
      {"series": "Penman-Monteith", "segment": "paddy", "time": "2003-08-24T17:55", "value": 15},
      {"series": "Penman-Monteith", "segment": "paddy", "time": "2003-08-24T18:50", "value": -10},
      {"series": "Penman-Monteith", "segment": "paddy", "time": "2003-08-24T21:50", "value": -5},
      {"series": "Penman-Monteith", "segment": "paddy", "time": "2003-08-25T02:30", "value": -8},
      {"series": "Penman-Monteith", "segment": "paddy", "time": "2003-08-25T06:25", "value": -10},
      {"series": "Penman-Monteith", "segment": "paddy", "time": "2003-08-25T07:10", "value": 105},
      {"series": "Penman-Monteith", "segment": "paddy", "time": "2003-08-25T07:50", "value": 105},
      {"series": "Penman-Monteith", "segment": "paddy", "time": "2003-08-25T08:30", "value": 170},
      {"series": "Penman-Monteith", "segment": "paddy", "time": "2003-08-25T09:00", "value": 100},
      {"series": "Penman-Monteith", "segment": "paddy", "time": "2003-08-25T09:25", "value": -15},
      {"series": "Penman-Monteith", "segment": "paddy", "time": "2003-08-25T09:55", "value": -25},
      {"series": "Penman-Monteith", "segment": "paddy", "time": "2003-08-25T10:20", "value": 310},
      {"series": "Penman-Monteith", "segment": "paddy", "time": "2003-08-25T11:05", "value": 275},
      {"series": "Penman-Monteith", "segment": "paddy", "time": "2003-08-25T11:45", "value": 260},
      {"series": "Penman-Monteith", "segment": "paddy", "time": "2003-08-25T12:15", "value": 220},
      {"series": "Penman-Monteith", "segment": "paddy", "time": "2003-08-25T12:25", "value": 260},
      {"series": "Penman-Monteith", "segment": "paddy", "time": "2003-08-25T12:55", "value": -15},
      {"series": "Penman-Monteith", "segment": "paddy", "time": "2003-08-25T13:10", "value": -50},
      {"series": "Penman-Monteith", "segment": "paddy", "time": "2003-08-25T13:35", "value": 105},

      {"series": "Bowen Ratio", "segment": "paddy", "time": "2003-08-22T17:35", "value": 240},
      {"series": "Bowen Ratio", "segment": "paddy", "time": "2003-08-22T18:15", "value": 100},
      {"series": "Bowen Ratio", "segment": "paddy", "time": "2003-08-22T19:00", "value": 90},
      {"series": "Bowen Ratio", "segment": "paddy", "time": "2003-08-22T20:05", "value": 0},
      {"series": "Bowen Ratio", "segment": "paddy", "time": "2003-08-22T21:45", "value": 10},
      {"series": "Bowen Ratio", "segment": "paddy", "time": "2003-08-23T00:45", "value": 0},
      {"series": "Bowen Ratio", "segment": "paddy", "time": "2003-08-23T03:30", "value": 0},
      {"series": "Bowen Ratio", "segment": "paddy", "time": "2003-08-23T03:45", "value": 555},
      {"series": "Bowen Ratio", "segment": "paddy", "time": "2003-08-23T04:15", "value": 30},
      {"series": "Bowen Ratio", "segment": "paddy", "time": "2003-08-23T04:40", "value": 205},
      {"series": "Bowen Ratio", "segment": "paddy", "time": "2003-08-23T04:55", "value": 15},
      {"series": "Bowen Ratio", "segment": "paddy", "time": "2003-08-23T05:50", "value": 40},
      {"series": "Bowen Ratio", "segment": "paddy", "time": "2003-08-23T07:00", "value": 10},
      {"series": "Bowen Ratio", "segment": "paddy", "time": "2003-08-23T08:50", "value": 160},
      {"series": "Bowen Ratio", "segment": "paddy", "time": "2003-08-23T09:30", "value": 50},
      {"series": "Bowen Ratio", "segment": "paddy", "time": "2003-08-23T10:00", "value": 300},
      {"series": "Bowen Ratio", "segment": "paddy", "time": "2003-08-23T10:30", "value": 740},
      {"series": "Bowen Ratio", "segment": "paddy", "time": "2003-08-23T10:55", "value": 365},
      {"series": "Bowen Ratio", "segment": "paddy", "time": "2003-08-23T11:35", "value": 280},
      {"series": "Bowen Ratio", "segment": "paddy", "time": "2003-08-23T12:20", "value": 330},
      {"series": "Bowen Ratio", "segment": "paddy", "time": "2003-08-23T13:00", "value": 405},
      {"series": "Bowen Ratio", "segment": "paddy", "time": "2003-08-23T13:40", "value": 215},
      {"series": "Bowen Ratio", "segment": "paddy", "time": "2003-08-23T14:10", "value": 425},
      {"series": "Bowen Ratio", "segment": "paddy", "time": "2003-08-23T14:50", "value": 495},
      {"series": "Bowen Ratio", "segment": "paddy", "time": "2003-08-23T15:20", "value": 330},
      {"series": "Bowen Ratio", "segment": "paddy", "time": "2003-08-23T15:45", "value": 390},
      {"series": "Bowen Ratio", "segment": "paddy", "time": "2003-08-23T16:30", "value": 375},
      {"series": "Bowen Ratio", "segment": "paddy", "time": "2003-08-23T16:55", "value": 300},
      {"series": "Bowen Ratio", "segment": "paddy", "time": "2003-08-23T17:40", "value": 160},
      {"series": "Bowen Ratio", "segment": "paddy", "time": "2003-08-23T18:50", "value": 45},
      {"series": "Bowen Ratio", "segment": "paddy", "time": "2003-08-23T19:45", "value": 5},
      {"series": "Bowen Ratio", "segment": "paddy", "time": "2003-08-23T22:45", "value": 0},
      {"series": "Bowen Ratio", "segment": "paddy", "time": "2003-08-24T02:10", "value": 0},
      {"series": "Bowen Ratio", "segment": "paddy", "time": "2003-08-24T06:20", "value": -10},
      {"series": "Bowen Ratio", "segment": "paddy", "time": "2003-08-24T08:00", "value": 160},
      {"series": "Bowen Ratio", "segment": "paddy", "time": "2003-08-24T08:40", "value": 245},
      {"series": "Bowen Ratio", "segment": "paddy", "time": "2003-08-24T09:25", "value": 900},
      {"series": "Bowen Ratio", "segment": "paddy", "time": "2003-08-24T09:50", "value": 430},
      {"series": "Bowen Ratio", "segment": "paddy", "time": "2003-08-24T10:20", "value": 270},
      {"series": "Bowen Ratio", "segment": "paddy", "time": "2003-08-24T11:00", "value": 350},
      {"series": "Bowen Ratio", "segment": "paddy", "time": "2003-08-24T11:30", "value": 710},
      {"series": "Bowen Ratio", "segment": "paddy", "time": "2003-08-24T11:55", "value": 350},
      {"series": "Bowen Ratio", "segment": "paddy", "time": "2003-08-24T12:25", "value": 170},
      {"series": "Bowen Ratio", "segment": "paddy", "time": "2003-08-24T12:50", "value": 90},
      {"series": "Bowen Ratio", "segment": "paddy", "time": "2003-08-24T13:20", "value": 250},
      {"series": "Bowen Ratio", "segment": "paddy", "time": "2003-08-24T14:15", "value": 300},
      {"series": "Bowen Ratio", "segment": "paddy", "time": "2003-08-24T14:55", "value": 250},
      {"series": "Bowen Ratio", "segment": "paddy", "time": "2003-08-24T15:50", "value": 480},
      {"series": "Bowen Ratio", "segment": "paddy", "time": "2003-08-24T16:35", "value": 160},
      {"series": "Bowen Ratio", "segment": "paddy", "time": "2003-08-24T16:45", "value": 35},
      {"series": "Bowen Ratio", "segment": "paddy", "time": "2003-08-24T17:45", "value": 10},
      {"series": "Bowen Ratio", "segment": "paddy", "time": "2003-08-24T19:35", "value": 0},
      {"series": "Bowen Ratio", "segment": "paddy", "time": "2003-08-24T21:50", "value": 15},
      {"series": "Bowen Ratio", "segment": "paddy", "time": "2003-08-24T22:45", "value": 25},
      {"series": "Bowen Ratio", "segment": "paddy", "time": "2003-08-24T23:55", "value": 35},
      {"series": "Bowen Ratio", "segment": "paddy", "time": "2003-08-25T01:35", "value": 38},
      {"series": "Bowen Ratio", "segment": "paddy", "time": "2003-08-25T02:55", "value": 43},
      {"series": "Bowen Ratio", "segment": "paddy", "time": "2003-08-25T04:50", "value": 30},
      {"series": "Bowen Ratio", "segment": "paddy", "time": "2003-08-25T06:25", "value": 35},
      {"series": "Bowen Ratio", "segment": "paddy", "time": "2003-08-25T07:10", "value": 95},
      {"series": "Bowen Ratio", "segment": "paddy", "time": "2003-08-25T07:50", "value": 105},
      {"series": "Bowen Ratio", "segment": "paddy", "time": "2003-08-25T08:45", "value": 210},
      {"series": "Bowen Ratio", "segment": "paddy", "time": "2003-08-25T09:25", "value": 0},
      {"series": "Bowen Ratio", "segment": "paddy", "time": "2003-08-25T10:10", "value": 405},
      {"series": "Bowen Ratio", "segment": "paddy", "time": "2003-08-25T10:35", "value": 300},
      {"series": "Bowen Ratio", "segment": "paddy", "time": "2003-08-25T11:15", "value": 260},
      {"series": "Bowen Ratio", "segment": "paddy", "time": "2003-08-25T11:45", "value": 225},
      {"series": "Bowen Ratio", "segment": "paddy", "time": "2003-08-25T12:15", "value": 120},
      {"series": "Bowen Ratio", "segment": "paddy", "time": "2003-08-25T12:40", "value": 0},
      {"series": "Bowen Ratio", "segment": "paddy", "time": "2003-08-25T13:10", "value": -45}
    ],
    "dividers": [
      {"time": "2003-08-20T16:45"},
      {"time": "2003-08-22T16:00"}
    ],
    "arrows": [
      {"from": "2003-08-19T09:15", "to": "2003-08-19T02:20", "level": -260, "dir": "left"},
      {"from": "2003-08-20T07:30", "to": "2003-08-20T16:30", "level": -260, "dir": "right"},
      {"from": "2003-08-21T05:15", "to": "2003-08-20T22:15", "level": -260, "dir": "left"},
      {"from": "2003-08-22T03:25", "to": "2003-08-22T12:30", "level": -265, "dir": "right"},
      {"from": "2003-08-23T07:40", "to": "2003-08-22T20:05", "level": -252, "dir": "left"},
      {"from": "2003-08-24T21:25", "to": "2003-08-25T12:25", "level": -260, "dir": "right"}
    ],
    "sites": [
      {"label": "Grass", "time": "2003-08-19T20:20", "level": -247},
      {"label": "Bare", "time": "2003-08-21T16:20", "level": -250},
      {"label": "Paddy", "time": "2003-08-24T02:40", "level": -225}
    ]
  },
  "layer": [
    {
      "data": {"name": "dividers"},
      "mark": {"type": "rule", "color": "black", "strokeWidth": 2.5, "strokeDash": [8, 5]},
      "encoding": {
        "x": {"field": "time", "type": "temporal"}
      }
    },
    {
      "data": {"name": "flux"},
      "mark": {"type": "line", "color": "black", "clip": true},
      "encoding": {
        "x": {
          "field": "time",
          "type": "temporal",
          "scale": {"domain": [{"year": 2003, "month": 8, "date": 19}, {"year": 2003, "month": 8, "date": 26}]},
          "axis": {
            "title": "Time",
            "titleFontSize": 14,
            "titleBaseline": "alphabetic",
            "titleY": 87,
            "tickCount": {"interval": "day", "step": 1},
            "labelExpr": "[timeFormat(datum.value, '%Y/%-m/%-d'), '0:00']",
            "labelFontSize": 15,
            "labelLineHeight": 24,
            "labelPadding": 20,
            "labelOverlap": false,
            "labelFlush": false,
            "labelAngle": 0,
            "tickSize": -4
          }
        },
        "y": {
          "field": "value",
          "type": "quantitative",
          "scale": {"domain": [-400, 1000], "nice": false},
          "axis": {
            "title": "Latent Heat flux (W m⁻²)",
            "titleFontSize": 13.5,
            "titleX": -57,
            "titleY": 142,
            "titleAlign": "center",
            "titleBaseline": "middle",
            "values": [-400, -200, 0, 200, 400, 600, 800, 1000],
            "labelExpr": "'' + datum.value",
            "labelFontSize": 14.5,
            "labelPadding": 12,
            "tickSize": -4
          }
        },
        "strokeDash": {
          "field": "series",
          "type": "nominal",
          "scale": {"domain": ["Bowen Ratio", "ECS", "Penman-Monteith"], "range": [[2, 3], [1, 0], [5, 3]]},
          "legend": {
            "orient": "none",
            "legendX": 188,
            "legendY": 9,
            "title": null,
            "symbolType": "stroke",
            "symbolSize": 1089,
            "symbolStrokeWidth": 1.5,
            "symbolStrokeColor": "black",
            "labelFontSize": 15,
            "labelColor": "black",
            "labelFont": "Liberation Sans",
            "rowPadding": 2,
            "labelOffset": 7
          }
        },
        "strokeWidth": {
          "field": "series",
          "type": "nominal",
          "scale": {"domain": ["Bowen Ratio", "ECS", "Penman-Monteith"], "range": [1.6, 1.8, 1.1]},
          "legend": null
        },
        "detail": {"field": "segment"}
      }
    },
    {
      "data": {"name": "flux"},
      "transform": [{"filter": "datum.series === 'Penman-Monteith'"}],
      "mark": {"type": "point", "shape": "triangle-up", "filled": true, "color": "black", "size": 12, "opacity": 1},
      "encoding": {
        "x": {"field": "time", "type": "temporal"},
        "y": {"field": "value", "type": "quantitative"}
      }
    },
    {
      "data": {"name": "arrows"},
      "mark": {"type": "rule", "color": "black", "strokeWidth": 1.5},
      "encoding": {
        "x": {"field": "from", "type": "temporal"},
        "x2": {"field": "to"},
        "y": {"field": "level", "type": "quantitative"}
      }
    },
    {
      "data": {"name": "arrows"},
      "mark": {"type": "point", "filled": true, "color": "black", "size": 45, "opacity": 1},
      "encoding": {
        "x": {"field": "to", "type": "temporal"},
        "y": {"field": "level", "type": "quantitative"},
        "shape": {"field": "dir", "type": "nominal", "scale": {"domain": ["left", "right"], "range": ["triangle-left", "triangle-right"]}, "legend": null}
      }
    },
    {
      "data": {"name": "sites"},
      "mark": {"type": "text", "fontSize": 15, "font": "Liberation Sans", "color": "black", "baseline": "middle", "align": "center"},
      "encoding": {
        "x": {"field": "time", "type": "temporal"},
        "y": {"field": "level", "type": "quantitative"},
        "text": {"field": "label"}
      }
    }
  ]
}
